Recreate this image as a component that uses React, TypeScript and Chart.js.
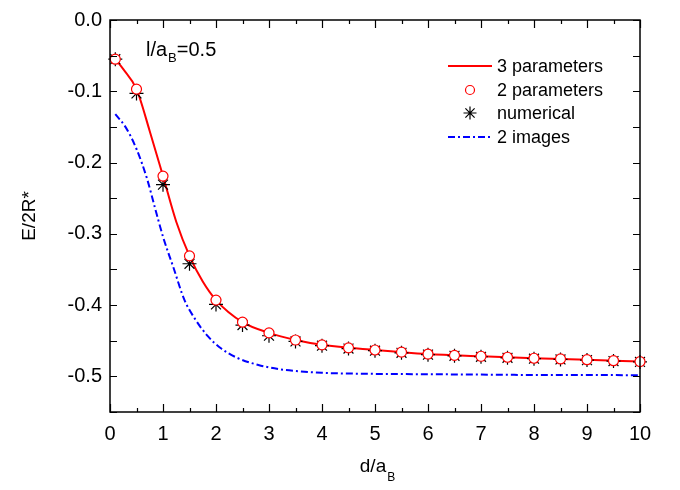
import React, { useEffect, useRef } from "react";
import { Chart, registerables } from "chart.js";

Chart.register(...registerables);

// ---- data ----
const dPoints = [0.1, 0.5, 1, 1.5, 2, 2.5, 3, 3.5, 4, 4.5, 5, 5.5, 6, 6.5, 7, 7.5, 8, 8.5, 9, 9.5, 10];
const twoParams = [-0.055, -0.097, -0.219, -0.331, -0.393, -0.424, -0.439, -0.449, -0.4558, -0.46, -0.463, -0.466, -0.4687, -0.4705, -0.4718, -0.4732, -0.4746, -0.4756, -0.4766, -0.478, -0.4793];
const numerical = [-0.055, -0.103, -0.231, -0.342, -0.399, -0.428, -0.443, -0.451, -0.457, -0.461, -0.464, -0.467, -0.4695, -0.4712, -0.4725, -0.474, -0.4752, -0.4762, -0.4772, -0.4785, -0.4798];

const threeD = [0.1, 0.25, 0.5, 0.75, 1, 1.25, 1.5, 1.75, 2, 2.5, 3, 3.5, 4, 5, 6, 7, 8, 9, 10];
const threeParams = [-0.055, -0.069, -0.097, -0.156, -0.219, -0.283, -0.331, -0.367, -0.393, -0.424, -0.439, -0.449, -0.4558, -0.463, -0.4687, -0.4718, -0.4746, -0.4766, -0.4793];

const imagesD = [0.1, 0.3, 0.5, 0.7, 0.85, 1, 1.2, 1.4, 1.6, 1.85, 2.1, 2.4, 2.8, 3.2, 3.6, 4, 5, 6, 7, 8, 9, 10];
const twoImages = [-0.132, -0.151, -0.181, -0.223, -0.264, -0.304, -0.348, -0.392, -0.419, -0.444, -0.461, -0.474, -0.484, -0.49, -0.493, -0.495, -0.4965, -0.497, -0.4975, -0.498, -0.498, -0.4985];

const xTicks = [0, 1, 2, 3, 4, 5, 6, 7, 8, 9, 10];
const yTicks = [-0.5, -0.4, -0.3, -0.2, -0.1, 0.0];

const legendLabels = ["3 parameters", "2 parameters", "numerical", "2 images"];

const FONT = '"Liberation Sans", Arial, sans-serif';

const toXY = (xs: number[], ys: number[]) => xs.map((x, i) => ({ x, y: ys[i] }));

const framePlugin = {
  id: "frame",
  afterDraw(chart: any) {
    const { ctx, chartArea } = chart;
    const { left, right, top, bottom } = chartArea;
    const xs = chart.scales.x;
    const ys = chart.scales.y;
    ctx.save();
    ctx.strokeStyle = "#000";
    ctx.lineWidth = 1.5;
    ctx.strokeRect(left, top, right - left, bottom - top);
    ctx.lineWidth = 1.2;
    ctx.beginPath();
    for (let i = 0; i <= 20; i++) {
      const v = i * 0.5;
      const px = Math.round(xs.getPixelForValue(v)) + 0.5;
      const len = i % 2 === 0 ? 8 : 4;
      ctx.moveTo(px, bottom);
      ctx.lineTo(px, bottom - len);
      ctx.moveTo(px, top);
      ctx.lineTo(px, top + len);
    }
    for (let i = 0; i <= 11; i++) {
      const v = -i * 0.05;
      const py = Math.round(ys.getPixelForValue(v)) + 0.5;
      const len = 7;
      ctx.moveTo(left, py);
      ctx.lineTo(left + len, py);
      ctx.moveTo(right, py);
      ctx.lineTo(right - len, py);
    }
    ctx.stroke();

    // axis titles
    ctx.fillStyle = "#000";
    ctx.textBaseline = "alphabetic";
    // x title d/a_B
    const cx = (left + right) / 2;
    const main = "d/a";
    ctx.font = `19px ${FONT}`;
    const w1 = ctx.measureText(main).width;
    ctx.font = `12px ${FONT}`;
    const w2 = ctx.measureText("B").width;
    const startX = cx - (w1 + w2) / 2 + 2;
    ctx.font = `19px ${FONT}`;
    ctx.textAlign = "left";
    ctx.fillText(main, startX, 472);
    ctx.font = `12px ${FONT}`;
    ctx.fillText("B", startX + w1 + 1, 481);

    // y title
    ctx.save();
    ctx.translate(35, (top + bottom) / 2);
    ctx.rotate(-Math.PI / 2);
    ctx.font = `19px ${FONT}`;
    ctx.textAlign = "center";
    ctx.fillText("E/2R*", 0, 0);
    ctx.restore();

    // annotation l/a_B=0.5
    ctx.font = `20px ${FONT}`;
    ctx.textAlign = "left";
    const ax = 146;
    const a1 = "l/a";
    ctx.fillText(a1, ax, 56);
    const aw = ctx.measureText(a1).width;
    ctx.font = `13px ${FONT}`;
    ctx.fillText("B", ax + aw + 1, 62);
    const bw = ctx.measureText("B").width;
    ctx.font = `20px ${FONT}`;
    ctx.fillText("=0.5", ax + aw + bw + 1, 56);

    // legend
    const rows = [66, 90, 113, 137];
    const lx1 = 448, lx2 = 492, mx = 470, tx = 497;
    ctx.font = `18px ${FONT}`;
    ctx.textBaseline = "middle";
    // row 0: red line
    ctx.strokeStyle = "#ff0000";
    ctx.lineWidth = 2;
    ctx.setLineDash([]);
    ctx.beginPath();
    ctx.moveTo(lx1, rows[0]);
    ctx.lineTo(lx2, rows[0]);
    ctx.stroke();
    // row 1: circle
    ctx.lineWidth = 1.2;
    ctx.fillStyle = "#fff";
    ctx.beginPath();
    ctx.arc(mx, rows[1], 4.5, 0, Math.PI * 2);
    ctx.fill();
    ctx.stroke();
    // row 2: star
    ctx.strokeStyle = "#000";
    ctx.lineWidth = 1.2;
    ctx.beginPath();
    const r = 6.5;
    for (let k = 0; k < 4; k++) {
      const ang = (k * Math.PI) / 4;
      ctx.moveTo(mx + r * Math.cos(ang), rows[2] + r * Math.sin(ang));
      ctx.lineTo(mx - r * Math.cos(ang), rows[2] - r * Math.sin(ang));
    }
    ctx.stroke();
    // row 3: blue dash-dot
    ctx.strokeStyle = "#0000ff";
    ctx.lineWidth = 2;
    ctx.setLineDash([7, 3, 2, 3]);
    ctx.beginPath();
    ctx.moveTo(lx1, rows[3]);
    ctx.lineTo(lx2, rows[3]);
    ctx.stroke();
    ctx.setLineDash([]);
    ctx.fillStyle = "#000";
    legendLabels.forEach((t, i) => ctx.fillText(t, tx, rows[i] + 1));
    ctx.restore();
  },
};

export default function App() {
  const ref = useRef<HTMLCanvasElement | null>(null);
  useEffect(() => {
    document.body.style.margin = "0";
    const canvas = ref.current!;
    const chart = new Chart(canvas, {
      type: "scatter",
      data: {
        datasets: [
          {
            label: "2 parameters",
            data: toXY(dPoints, twoParams),
            showLine: false,
            pointStyle: "circle",
            pointRadius: 5,
            pointBorderColor: "#ff0000",
            pointBackgroundColor: "#ffffff",
            pointBorderWidth: 1.2,
            clip: false,
          } as any,
          {
            label: "numerical",
            data: toXY(dPoints, numerical),
            showLine: false,
            pointStyle: "star",
            pointRadius: 7,
            pointBorderColor: "#000000",
            pointBackgroundColor: "#000000",
            pointBorderWidth: 1.2,
            clip: false,
          } as any,
          {
            label: "3 parameters",
            data: toXY(threeD, threeParams),
            showLine: true,
            pointRadius: 0,
            borderColor: "#ff0000",
            borderWidth: 2,
            cubicInterpolationMode: "monotone",
          } as any,
          {
            label: "2 images",
            data: toXY(imagesD, twoImages),
            showLine: true,
            pointRadius: 0,
            borderColor: "#0000ff",
            borderWidth: 2,
            borderDash: [7, 3, 2, 3],
            cubicInterpolationMode: "monotone",
          } as any,
        ],
      },
      options: {
        animation: false,
        responsive: false,
        devicePixelRatio: 1,
        layout: { padding: { left: 0, right: 40, top: 16, bottom: 0 } },
        plugins: { legend: { display: false }, tooltip: { enabled: false } },
        scales: {
          x: {
            type: "linear",
            min: 0,
            max: 10,
            grid: { display: false, drawTicks: false },
            border: { display: false },
            afterBuildTicks: (s: any) => {
              s.ticks = xTicks.map((v) => ({ value: v }));
            },
            afterFit: (s: any) => {
              s.height = 78;
            },
            ticks: {
              color: "#000",
              padding: 10,
              font: { family: FONT, size: 20 },
              callback: (v: any) => String(v),
              maxRotation: 0,
            },
          },
          y: {
            type: "linear",
            min: -0.55,
            max: 0,
            grid: { display: false, drawTicks: false },
            border: { display: false },
            afterBuildTicks: (s: any) => {
              s.ticks = yTicks.map((v) => ({ value: v }));
            },
            afterFit: (s: any) => {
              s.width = 110;
            },
            ticks: {
              color: "#000",
              padding: 8,
              font: { family: FONT, size: 20 },
              callback: (v: any) => Number(v).toFixed(1),
            },
          },
        },
      },
      plugins: [framePlugin],
    });
    return () => chart.destroy();
  }, []);
  return (
    <div style={{ position: "absolute", left: 0, top: 0, width: 680, height: 490 }}>
      <canvas ref={ref} width={680} height={490} />
    </div>
  );
}
